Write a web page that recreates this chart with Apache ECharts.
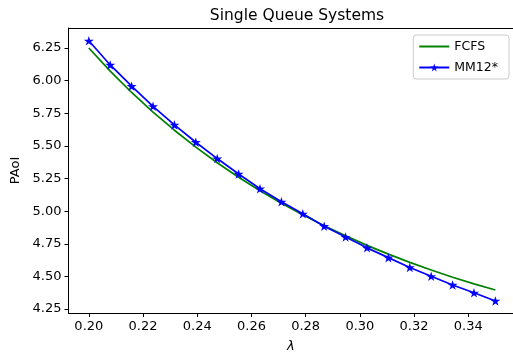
<!DOCTYPE html>
<html>
<head>
<meta charset="utf-8">
<script src="https://cdn.jsdelivr.net/npm/echarts@6/dist/echarts.min.js"></script>
<style>
html,body{margin:0;padding:0;background:#fff;}
#c{width:513px;height:358px;}
</style>
</head>
<body>
<div id="c"></div>
<script>
const lambdas = [0.2, 0.207895, 0.215789, 0.223684, 0.231579, 0.239474, 0.247368, 0.255263, 0.263158, 0.271053,
                 0.278947, 0.286842, 0.294737, 0.302632, 0.310526, 0.318421, 0.326316, 0.334211, 0.342105, 0.35];
const fcfs = [6.250, 6.073, 5.909, 5.759, 5.620, 5.491, 5.371, 5.260, 5.157, 5.061,
              4.972, 4.888, 4.811, 4.738, 4.671, 4.608, 4.549, 4.494, 4.443, 4.396];
const mm12 = [6.305, 6.120, 5.957, 5.803, 5.661, 5.528, 5.403, 5.285, 5.172, 5.072,
              4.980, 4.885, 4.802, 4.719, 4.644, 4.569, 4.501, 4.435, 4.375, 4.312];
const xTicks = [0.20, 0.22, 0.24, 0.26, 0.28, 0.30, 0.32, 0.34];
const yTicks = [4.25, 4.50, 4.75, 5.00, 5.25, 5.50, 5.75, 6.00, 6.25];
const seriesNames = ['FCFS', 'MM12*'];

const star = 'path://M0,-100 L22.45,-30.9 L95.1,-30.9 L36.3,11.8 L58.8,80.9 L0,38.2 L-58.8,80.9 L-36.3,11.8 L-95.1,-30.9 L-22.45,-30.9 Z';
const font = 'DejaVu Sans';
const XMIN = 0.1925, XMAX = 0.3565;

const chart = echarts.init(document.getElementById('c'), null, {renderer: 'canvas'});
chart.setOption({
  animation: false,
  backgroundColor: '#ffffff',
  title: {
    text: 'Single Queue Systems',
    left: 292, top: 3, textAlign: 'center',
    textStyle: {fontFamily: font, fontSize: 15.5, fontWeight: 'normal', color: '#000'}
  },
  legend: {
    orient: 'vertical',
    right: 4, top: 35,
    data: [{name: seriesNames[0], itemStyle: {opacity: 0}}, seriesNames[1]],
    itemWidth: 30, itemHeight: 10, itemGap: 8,
    padding: [5, 11, 5, 5],
    borderColor: '#cccccc', borderWidth: 1, borderRadius: 3,
    backgroundColor: 'rgba(255,255,255,0.8)',
    textStyle: {fontFamily: font, fontSize: 12.5, color: '#000'}
  },
  grid: {
    left: 68.5, top: 28, right: 0, bottom: 39.7, show: false
  },
  xAxis: [{
    type: 'value', min: XMIN, max: XMAX,
    name: 'λ', nameLocation: 'middle', nameGap: 27,
    nameTextStyle: {fontFamily: font, fontSize: 13, fontStyle: 'italic', color: '#000'},
    axisLine: {show: true, onZero: false, lineStyle: {color: '#000', width: 1}},
    axisTick: {show: true, inside: false, length: 4, lineStyle: {color: '#000'}, customValues: xTicks},
    axisLabel: {fontFamily: font, fontSize: 13, color: '#000', margin: 7, customValues: xTicks,
                formatter: v => v.toFixed(2)},
    splitLine: {show: false}
  }, {
    type: 'value', min: XMIN, max: XMAX, position: 'top',
    axisLine: {show: true, onZero: false, lineStyle: {color: '#000', width: 1}},
    axisTick: {show: false}, axisLabel: {show: false}, splitLine: {show: false}
  }],
  yAxis: {
    type: 'value', min: 4.22, max: 6.403,
    name: 'PAoI', nameLocation: 'middle', nameGap: 43, nameRotate: 90,
    nameTextStyle: {fontFamily: font, fontSize: 13, color: '#000'},
    axisLine: {show: true, onZero: false, lineStyle: {color: '#000', width: 1}},
    axisTick: {show: true, inside: false, length: 4, lineStyle: {color: '#000'}, customValues: yTicks},
    axisLabel: {fontFamily: font, fontSize: 13, color: '#000', margin: 7, customValues: yTicks,
                formatter: v => v.toFixed(2)},
    splitLine: {show: false}
  },
  series: [
    {
      name: seriesNames[0], type: 'line',
      data: lambdas.map((x, i) => [x, fcfs[i]]),
      showSymbol: false, symbol: 'none', smooth: false,
      lineStyle: {color: '#008000', width: 1.7},
      itemStyle: {color: '#008000'}
    },
    {
      name: seriesNames[1], type: 'line',
      data: lambdas.map((x, i) => [x, mm12[i]]),
      symbol: star, symbolSize: 10, symbolKeepAspect: true, showSymbol: true,
      lineStyle: {color: '#0000ff', width: 1.7},
      itemStyle: {color: '#0000ff', borderWidth: 0}
    }
  ]
});
</script>
</body>
</html>
